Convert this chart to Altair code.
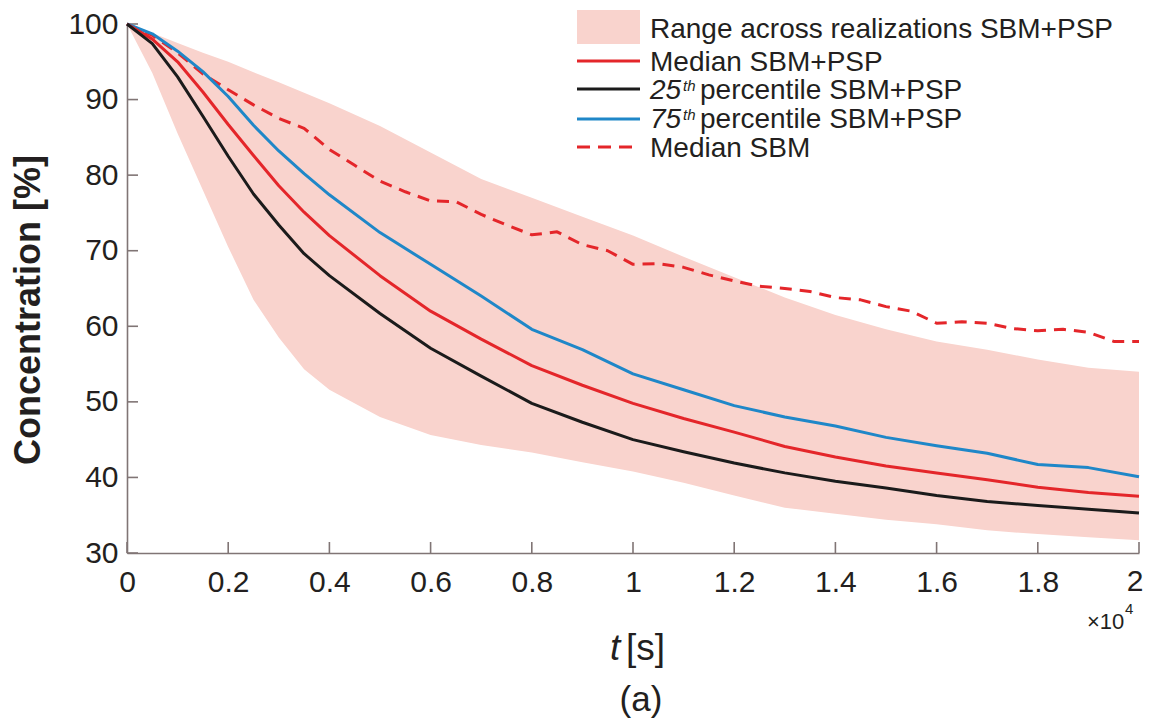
import altair as alt
import pandas as pd

FONT = "Liberation Sans"

# ---------------- data ----------------
t_band = [0, 0.05, 0.1, 0.15, 0.2, 0.25, 0.3, 0.35, 0.4, 0.5, 0.6, 0.7, 0.8, 0.9,
          1.0, 1.1, 1.2, 1.3, 1.4, 1.5, 1.6, 1.7, 1.8, 1.9, 2.0]
band_hi = [100, 98.8, 97.5, 96.2, 95.0, 93.6, 92.3, 90.9, 89.5, 86.5, 83.0, 79.5, 77.0, 74.5,
           72.0, 69.2, 66.5, 63.8, 61.5, 59.6, 58.0, 56.9, 55.6, 54.5, 54.0]
band_lo = [100, 93.5, 85.5, 78.0, 70.5, 63.5, 58.5, 54.3, 51.6, 48.0, 45.6, 44.3, 43.3, 42.0,
           40.8, 39.3, 37.6, 36.0, 35.2, 34.4, 33.8, 33.0, 32.5, 32.1, 31.7]

t_line = [0, 0.05, 0.1, 0.15, 0.2, 0.25, 0.3, 0.35, 0.4, 0.5, 0.6, 0.7, 0.8, 0.9,
          1.0, 1.1, 1.2, 1.3, 1.4, 1.5, 1.6, 1.7, 1.8, 1.9, 2.0]
p25 = [100, 97.4, 93.0, 87.8, 82.5, 77.5, 73.4, 69.6, 66.7, 61.7, 57.1, 53.4, 49.8, 47.3,
       45.0, 43.4, 41.9, 40.6, 39.5, 38.6, 37.6, 36.8, 36.3, 35.8, 35.3]
median = [100, 98.0, 95.0, 91.0, 86.7, 82.6, 78.6, 75.1, 72.0, 66.7, 62.0, 58.3, 54.8, 52.2,
          49.8, 47.8, 46.0, 44.1, 42.7, 41.5, 40.6, 39.7, 38.7, 38.0, 37.5]
p75 = [100, 98.7, 96.4, 93.7, 90.4, 86.6, 83.2, 80.2, 77.4, 72.4, 68.2, 64.0, 59.6, 56.9,
       53.7, 51.6, 49.5, 48.0, 46.8, 45.3, 44.2, 43.2, 41.7, 41.3, 40.1]

t_sbm = [0, 0.05, 0.1, 0.15, 0.2, 0.25, 0.3, 0.35, 0.4, 0.45, 0.5, 0.55, 0.6, 0.65, 0.7,
         0.75, 0.8, 0.85, 0.9, 0.95, 1.0, 1.05, 1.1, 1.15, 1.2, 1.25, 1.3, 1.35, 1.4,
         1.45, 1.5, 1.55, 1.6, 1.65, 1.7, 1.75, 1.8, 1.85, 1.9, 1.95, 2.0]
median_sbm = [100, 98.5, 96.2, 93.4, 91.3, 89.3, 87.5, 86.2, 83.4, 81.3, 79.2, 77.8, 76.6,
              76.5, 74.8, 73.4, 72.1, 72.5, 70.8, 70.0, 68.2, 68.3, 67.8, 66.8, 66.0, 65.3,
              65.0, 64.6, 63.8, 63.5, 62.6, 62.0, 60.4, 60.6, 60.4, 59.7, 59.4, 59.6, 59.2,
              58.0, 58.0]

x_ticks = [0, 0.2, 0.4, 0.6, 0.8, 1, 1.2, 1.4, 1.6, 1.8, 2]
y_ticks = [30, 40, 50, 60, 70, 80, 90, 100]
last_x_label = [2]

# ---------------- styling ----------------
W, H = 1012, 529
BAND = "#f9d3cd"
RED = "#e4262a"
BLACK = "#1b1b1b"
BLUE = "#1f87c8"
AXIS = "#807575"
TXT = "#231f20"

x_scale = alt.Scale(domain=[0, 2], nice=False, zero=False)
y_scale = alt.Scale(domain=[30, 100], nice=False, zero=False)

x_axis = alt.Axis(values=x_ticks, format="~g", labelFontSize=30, labelFont=FONT,
                  labelColor=TXT, labelPadding=14, tickSize=0, grid=False,
                  domainColor=AXIS, domainWidth=1.6, title=None, labelFlush=False,
                  labelExpr="datum.value == 2 ? '' : datum.label")
y_axis = alt.Axis(values=y_ticks, labelFontSize=30, labelFont=FONT, labelColor=TXT,
                  labelPadding=9, tickSize=0, grid=False, domainColor=AXIS,
                  domainWidth=1.6, title=None)

band_df = pd.DataFrame({"t": t_band, "lo": band_lo, "hi": band_hi})
band = alt.Chart(band_df).mark_area(color=BAND, opacity=1).encode(
    x=alt.X("t:Q", scale=x_scale, axis=x_axis),
    y=alt.Y("lo:Q", scale=y_scale, axis=y_axis),
    y2="hi:Q",
)


def line(ts, vs, color, dash=None):
    df = pd.DataFrame({"t": ts, "v": vs})
    kw = dict(color=color, strokeWidth=3, strokeJoin="round")
    if dash:
        kw["strokeDash"] = dash
    return alt.Chart(df).mark_line(**kw).encode(
        x=alt.X("t:Q", scale=x_scale), y=alt.Y("v:Q", scale=y_scale))


l_sbm = line(t_sbm, median_sbm, RED, [12, 8])
l_75 = line(t_line, p75, BLUE)
l_med = line(t_line, median, RED)
l_25 = line(t_line, p25, BLACK)

# inward ticks
xt = alt.Chart(pd.DataFrame({"t": x_ticks})).mark_rule(color=AXIS, strokeWidth=1.6).encode(
    x=alt.X("t:Q", scale=x_scale), y=alt.value(H), y2=alt.value(H - 11))
yt = alt.Chart(pd.DataFrame({"v": y_ticks})).mark_rule(color=AXIS, strokeWidth=1.6).encode(
    y=alt.Y("v:Q", scale=y_scale), x=alt.value(0), x2=alt.value(11))

# last x label, nudged so it stays inside the page
last_lbl = alt.Chart(pd.DataFrame({"t": last_x_label})).mark_text(
    font=FONT, fontSize=30, color=TXT, align="center", baseline="top", dx=-4, dy=14
).encode(x=alt.X("t:Q", scale=x_scale), y=alt.value(H), text=alt.Text("t:Q", format="~g"))


def txt(s, x, y, size, align="left", baseline="alphabetic", style="normal",
        weight="normal", angle=0, color=TXT):
    kw = dict(align=align, baseline=baseline, fontSize=size, font=FONT,
              fontStyle=style, fontWeight=weight, color=color)
    if angle:
        kw["angle"] = angle
    return alt.Chart(pd.DataFrame({"s": [s]})).mark_text(**kw).encode(
        x=alt.value(x), y=alt.value(y), text="s:N")


# plot origin in page coords: (127, 24)
OX, OY = 127, 24
LX = 650
texts = [
    txt("Concentration [%]", 29 - OX, 310 - OY, 36, align="center", baseline="middle",
        weight="bold", angle=270),
    txt("t", 610 - OX, 660 - OY, 37, style="italic"),
    txt("[s]", 626 - OX, 660 - OY, 37),
    txt("(a)", 641 - OX, 711 - OY, 35, align="center"),
    txt("×10", 1087 - OX, 629 - OY, 22),
    txt("4", 1125 - OX, 614 - OY, 15),
    # legend texts
    txt("Range across realizations SBM+PSP", LX - OX, 38 - OY, 28),
    txt("Median SBM+PSP", LX - OX, 71 - OY, 28),
    txt("25", LX - OX, 99 - OY, 28, style="italic"),
    txt("th", LX + 33 - OX, 91 - OY, 15, style="italic"),
    txt("percentile SBM+PSP", LX + 50 - OX, 99 - OY, 28),
    txt("75", LX - OX, 128 - OY, 28, style="italic"),
    txt("th", LX + 33 - OX, 120 - OY, 15, style="italic"),
    txt("percentile SBM+PSP", LX + 50 - OX, 128 - OY, 28),
    txt("Median SBM", LX - OX, 157 - OY, 28),
]

swatch = alt.Chart(pd.DataFrame({"s": ["band"]})).mark_rect(color=BAND).encode(
    x=alt.value(577 - OX), x2=alt.value(640 - OX), y=alt.value(10 - OY), y2=alt.value(44 - OY))


def leg_line(y, color, dash=None):
    kw = dict(color=color, strokeWidth=3)
    if dash:
        kw["strokeDash"] = dash
    return alt.Chart(pd.DataFrame({"s": ["l"]})).mark_rule(**kw).encode(
        x=alt.value(577 - OX), x2=alt.value(640 - OX), y=alt.value(y - OY))


legend = [swatch, leg_line(61, RED), leg_line(89, BLACK), leg_line(119, BLUE),
          leg_line(147, RED, [13, 8])]

chart = alt.layer(band, xt, yt, l_sbm, l_75, l_med, l_25, last_lbl, *legend, *texts).properties(
    width=W, height=H,
    padding={"left": OX - 8, "top": OY - 8, "right": 5, "bottom": 166},
    autosize=alt.AutoSizeParams(type="none"),
).configure_view(stroke=None)

chart.save("out.html", embed_options={"renderer": "svg", "actions": False})
